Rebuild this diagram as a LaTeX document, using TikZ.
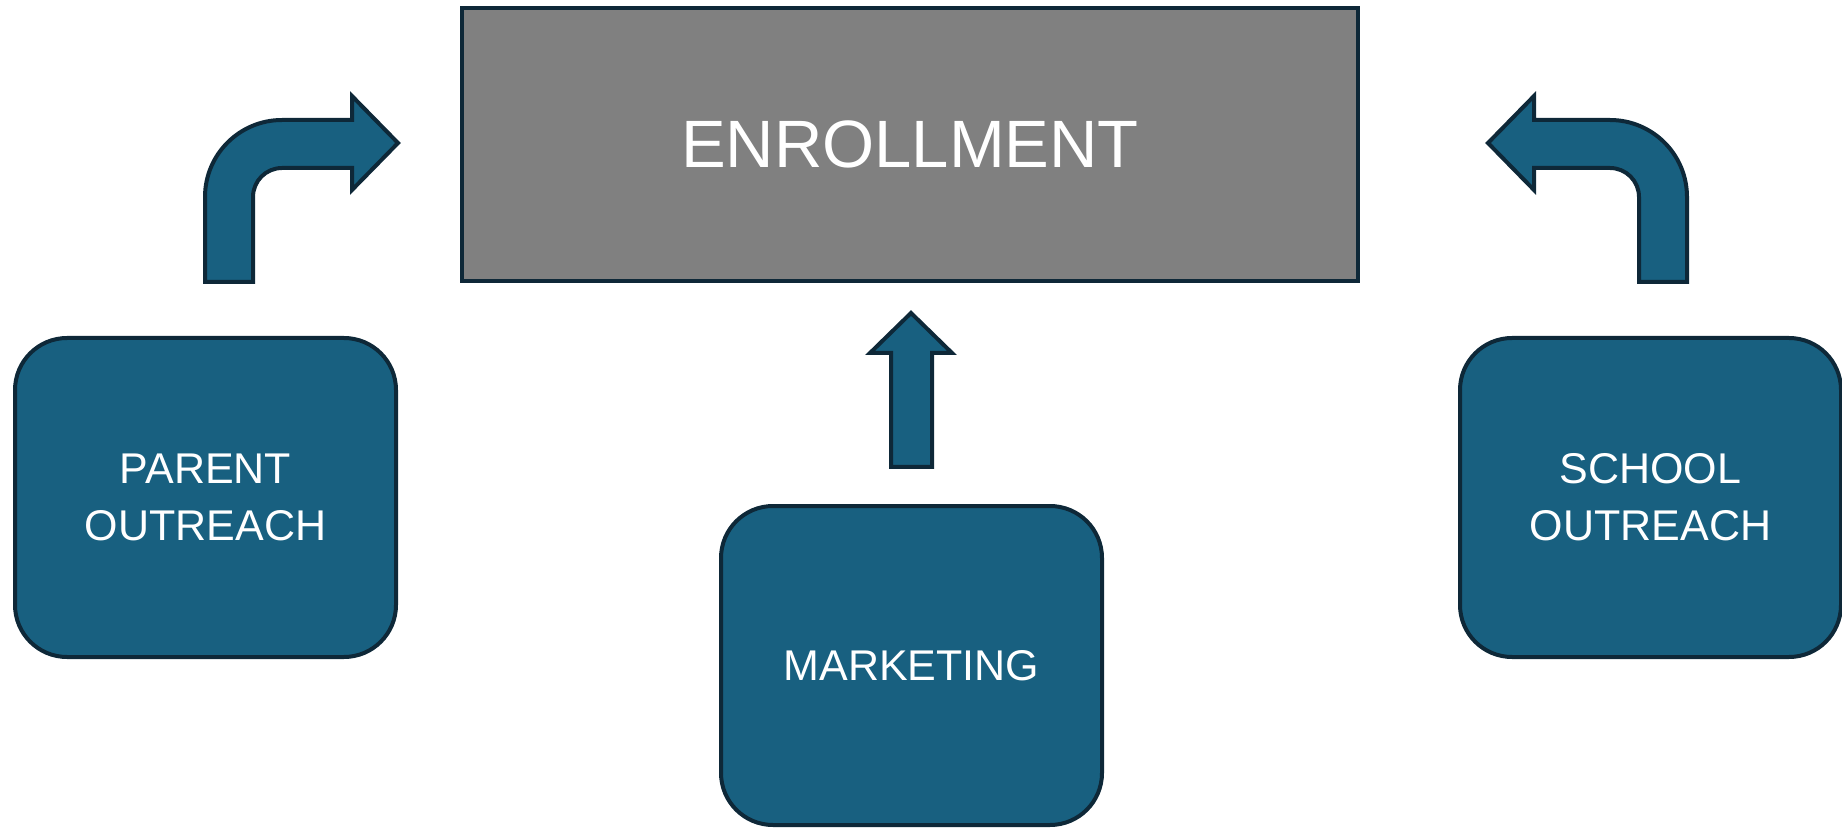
\documentclass[tikz,border=0pt]{standalone}
\usepackage{fontspec}
\setmainfont{Liberation Sans}
\usepackage{tikz}
\usetikzlibrary{calc,positioning}
\definecolor{tealfill}{HTML}{186080}
\definecolor{navyline}{HTML}{0E2838}
\definecolor{boxgray}{HTML}{808080}
\tikzset{
  srcbox/.style={draw=navyline, fill=tealfill, line width=2pt, rounded corners=26pt,
    minimum width=190.5pt, minimum height=159.5pt, inner sep=0pt,
    text=white, align=center, font=\fontsize{21.5}{28.5}\selectfont},
  goalbox/.style={draw=navyline, fill=boxgray, line width=2.2pt,
    minimum width=448pt, minimum height=136.5pt, inner sep=0pt,
    text=white, font=\fontsize{33.5}{40}\selectfont},
  blockarrow/.style={draw=navyline, fill=tealfill, line width=2pt, line join=miter}
}

\begin{document}
\begin{tikzpicture}[x=0.5pt,y=-0.5pt]
    \useasboundingbox (0,0) rectangle (1842,828); % page frame
    \node[goalbox] (enroll) at (910,144.5) {ENROLLMENT}; % target box
    \node[srcbox] (parent) at (205.5,497.5) {PARENT\\OUTREACH}; % left source
    \node[srcbox] (school) at (1650.5,497.5) {SCHOOL\\OUTREACH}; % right source
    \node[srcbox] (market) at (911.5,665.5) {MARKETING}; % bottom source
    \draw[blockarrow] (205,282) -- (205,197) arc[start angle=180,end angle=270,radius=77]
        -- (352,120) -- (352,96) -- (398,143) -- (352,190) -- (352,168)
        -- (282,168) arc[start angle=270,end angle=180,radius=29] -- (253,282) -- cycle; % left bent arrow
    \draw[blockarrow] (1687,282) -- (1687,197) arc[start angle=0,end angle=-90,radius=77]
        -- (1534,120) -- (1534,96) -- (1488,143) -- (1534,190) -- (1534,168)
        -- (1610,168) arc[start angle=-90,end angle=0,radius=29] -- (1639,282) -- cycle; % right bent arrow
    \draw[blockarrow] (891,467) -- (891,353) -- (870,353) -- (911,313) -- (952,353)
        -- (932,353) -- (932,467) -- cycle; % up arrow
\end{tikzpicture}
\end{document}
